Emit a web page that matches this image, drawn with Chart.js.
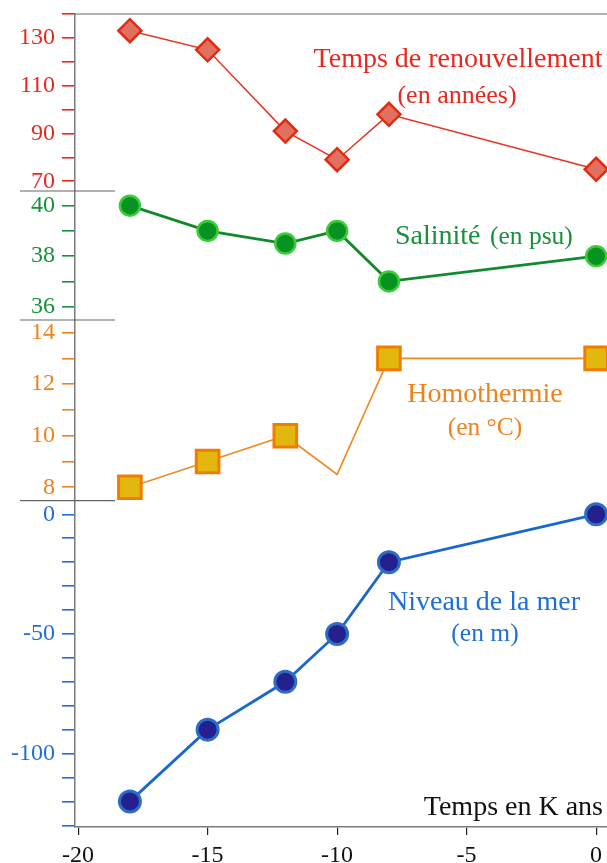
<!DOCTYPE html>
<html>
<head>
<meta charset="utf-8">
<script src="https://cdn.jsdelivr.net/npm/chart.js@4.4.1/dist/chart.umd.min.js"></script>
<style>
  html, body { margin: 0; padding: 0; background: #ffffff; }
  #wrap { width: 607px; height: 863px; }
</style>
</head>
<body>
<div id="wrap"><canvas id="c" width="607" height="863"></canvas></div>
<script>
// Time axis (thousands of years before present)
const years = [-18, -15, -12, -10, -8, 0];
const xTicks = [-20, -15, -10, -5, 0];

// Series
const renouvellement = [133, 125, 91, 79, 98, 75];   // years
const salinite = [40, 39, 38.5, 39, 37, 38];          // psu
const homothermie = [8, 9, 10, 8.5, 13, 13];          // °C
const niveauMer = [-120, -90, -70, -50, -20, 0];      // m

// Tick values (all marks) and labelled values for each panel
const renTicks = [140, 130, 120, 110, 100, 90, 80, 70];
const renLabels = [130, 110, 90, 70];
const salTicks = [40, 39, 38, 37, 36];
const salLabels = [40, 38, 36];
const homTicks = [14, 13, 12, 11, 10, 9, 8];
const homLabels = [14, 12, 10, 8];
const merTicks = [0, -10, -20, -30, -40, -50, -60, -70, -80, -90, -100, -110, -120, -130];
const merLabels = [0, -50, -100];

const RED = '#e8281e';
const GREEN = '#17913a';
const ORANGE = '#f0821a';
const BLUE = '#1e6fd6';
const AXIS_GREY = '#7a7a7a';
const SERIF = "'Liberation Serif', 'DejaVu Serif', 'Times New Roman', serif";

const pts = vals => years.map((x, i) => ({ x, y: vals[i] }));

function panelAxis(color, ticks, labels, min, max, weight, stackWeight) {
  return {
    type: 'linear',
    position: 'left',
    stack: 'panels',
    stackWeight,
    weight,
    min, max,
    border: { display: true, color: AXIS_GREY, width: 1.5 },
    grid: { drawOnChartArea: false, drawTicks: true, tickLength: 13, color, lineWidth: 1.6 },
    ticks: {
      autoSkip: false,
      padding: 7,
      color,
      font: { family: SERIF, size: 24 },
      callback: v => labels.includes(v) ? String(v) : ''
    },
    afterBuildTicks: s => { s.ticks = ticks.map(v => ({ value: v })); },
    afterFit: s => { s.width = 75; s.paddingTop = 0; s.paddingBottom = 0; }
  };
}

// Frame: top rule and short separators between the stacked panels, plus text labels
const framePlugin = {
  id: 'frame',
  beforeDatasetsDraw(chart) {
    const { ctx, chartArea } = chart;
    ctx.save();
    ctx.strokeStyle = '#666666';
    ctx.lineWidth = 1.2;
    ctx.beginPath();
    ctx.moveTo(chartArea.left, chartArea.top);
    ctx.lineTo(chart.width, chartArea.top);
    ['yRen', 'ySal', 'yHom'].forEach(id => {
      const b = chart.scales[id].bottom;
      ctx.moveTo(20, b);
      ctx.lineTo(115, b);
    });
    ctx.stroke();
    ctx.restore();
  },
  afterDraw(chart) {
    const { ctx } = chart;
    const txt = (s, x, y, size, color, align) => {
      ctx.font = size + 'px ' + SERIF;
      ctx.fillStyle = color;
      ctx.textAlign = align || 'center';
      ctx.textBaseline = 'alphabetic';
      ctx.fillText(s, x, y);
    };
    ctx.save();
    txt('Temps de renouvellement', 458, 67, 28, RED);
    txt('(en années)', 457, 103, 26, RED);
    txt('Salinité', 395, 244, 28, GREEN, 'left');
    txt('(en psu)', 490, 244, 25.5, GREEN, 'left');
    txt('Homothermie', 485, 402, 28, ORANGE);
    txt('(en °C)', 485, 435, 25.5, ORANGE);
    txt('Niveau de la mer', 484, 610, 28, BLUE);
    txt('(en m)', 485, 641, 25.5, BLUE);
    txt('Temps en K ans', 603, 815, 28, '#111111', 'right');
    ctx.restore();
  }
};

new Chart(document.getElementById('c'), {
  type: 'line',
  data: {
    datasets: [
      {
        data: pts(renouvellement), yAxisID: 'yRen',
        borderColor: '#e8301e', borderWidth: 1.5,
        pointStyle: 'rectRot', pointRadius: 11.5,
        pointBackgroundColor: '#e2705f', pointBorderColor: '#e12a12', pointBorderWidth: 2.5
      },
      {
        data: pts(salinite), yAxisID: 'ySal',
        borderColor: '#128a2c', borderWidth: 2.8,
        pointStyle: 'circle', pointRadius: 10,
        pointBackgroundColor: '#089222', pointBorderColor: '#3ccc3a', pointBorderWidth: 2.5
      },
      {
        data: pts(homothermie), yAxisID: 'yHom',
        borderColor: '#f08a22', borderWidth: 1.6,
        pointStyle: 'rect', pointRadius: [16, 16, 16, 0, 16, 16],
        pointBackgroundColor: '#e2b80e', pointBorderColor: '#f07c00', pointBorderWidth: 3
      },
      {
        data: pts(niveauMer), yAxisID: 'yMer',
        borderColor: '#1a66d2', borderWidth: 2.8,
        pointStyle: 'circle', pointRadius: 10.5,
        pointBackgroundColor: '#24208e', pointBorderColor: '#2e6cc8', pointBorderWidth: 3
      }
    ]
  },
  options: {
    responsive: false,
    animation: false,
    devicePixelRatio: 1,
    layout: { autoPadding: false, padding: { top: 14, left: 0, right: 0, bottom: 0 } },
    plugins: { legend: { display: false }, tooltip: { enabled: false } },
    elements: { line: { tension: 0 } },
    scales: {
      x: {
        type: 'linear',
        position: 'bottom',
        min: -20.12, max: 0.42,
        border: { display: true, color: AXIS_GREY, width: 1.5 },
        grid: { drawOnChartArea: false, drawTicks: true, tickLength: 8, color: '#222222', lineWidth: 1.2 },
        ticks: {
          autoSkip: false, maxRotation: 0, padding: 6,
          color: '#111111',
          font: { family: SERIF, size: 24 },
          callback: v => String(v)
        },
        afterBuildTicks: s => { s.ticks = xTicks.map(v => ({ value: v })); },
        afterFit: s => { s.height = 36; s.paddingLeft = 0; s.paddingRight = 0; }
      },
      yRen: panelAxis(RED, renTicks, renLabels, 65.9, 140, 4, 177),
      ySal: panelAxis(GREEN, salTicks, salLabels, 35.47, 40.58, 3, 129),
      yHom: panelAxis(ORANGE, homTicks, homLabels, 7.48, 14.49, 2, 180.7),
      yMer: panelAxis(BLUE, merTicks, merLabels, -130.7, 5.69, 1, 326.3)
    }
  },
  plugins: [framePlugin]
});
</script>
</body>
</html>
